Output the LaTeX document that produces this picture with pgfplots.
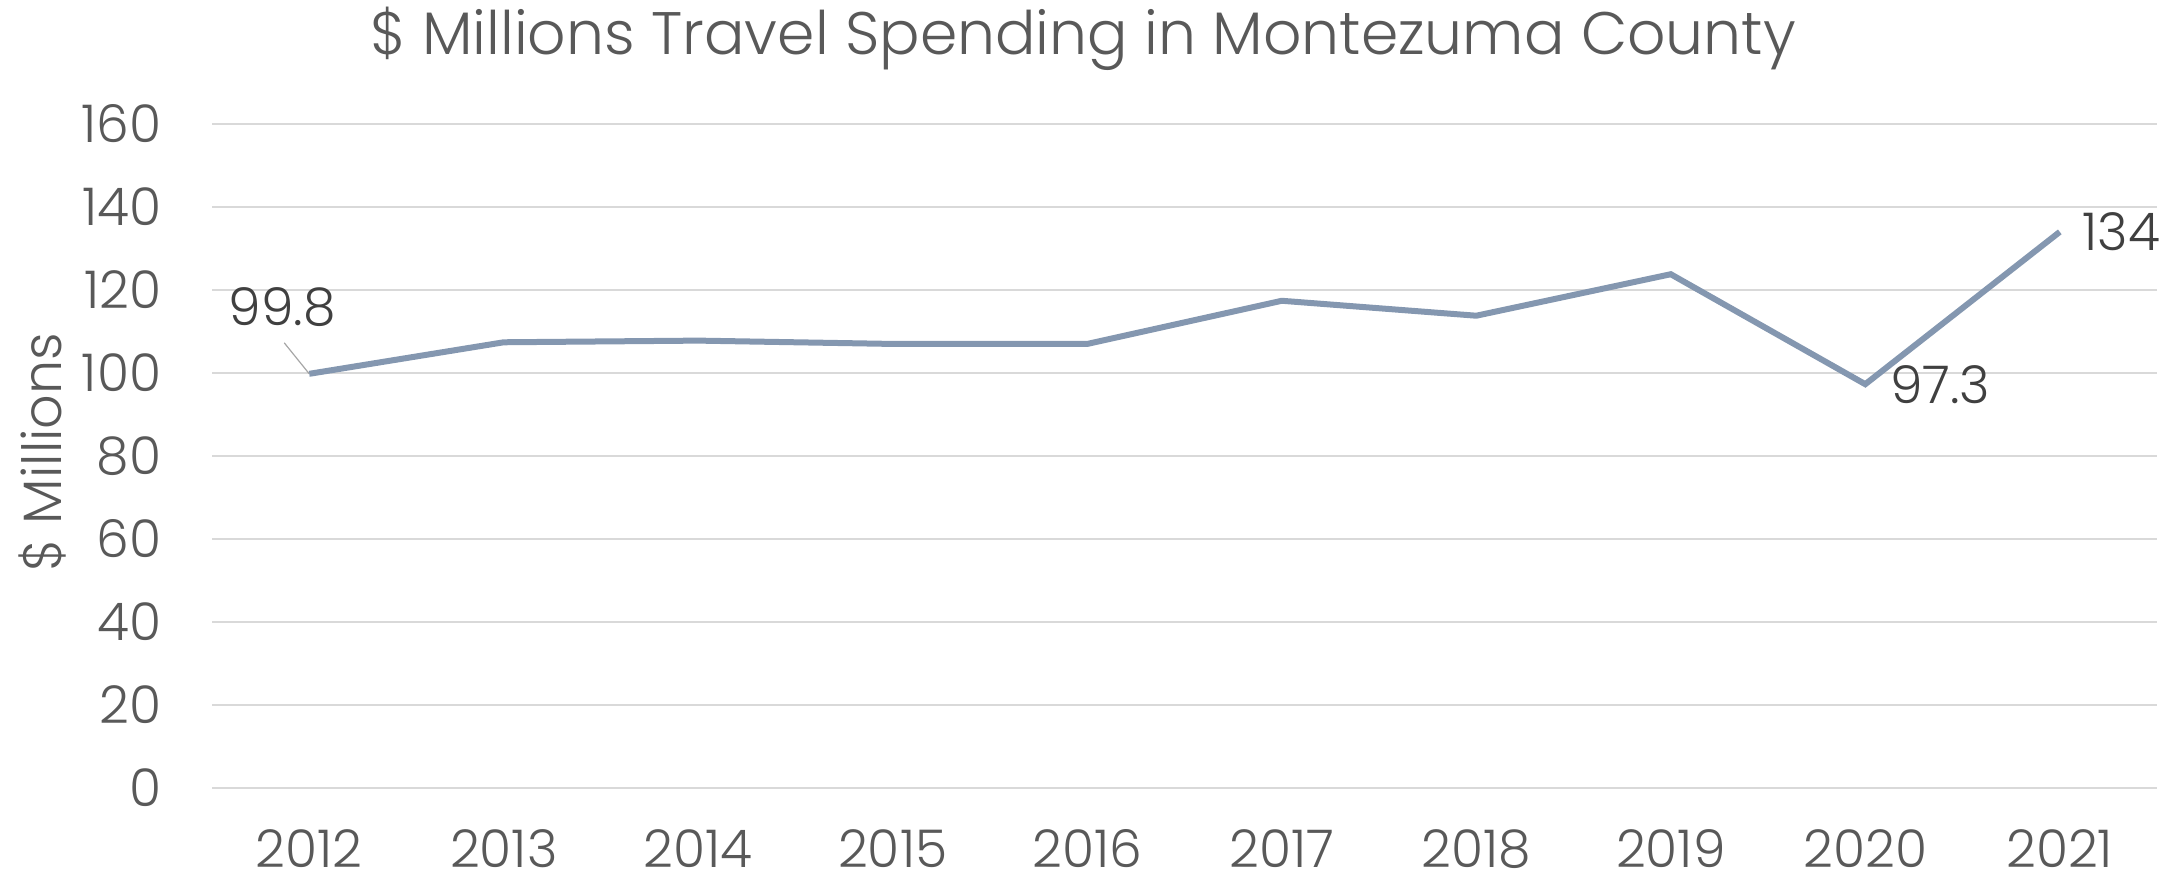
\documentclass[border=0pt]{standalone}
\usepackage{pgfplots}
\pgfplotsset{compat=1.18}
\usepackage{fontspec}
\setmainfont{Poppins}[UprightFont=* Light]
\definecolor{linec}{HTML}{8497B0}
\definecolor{gridc}{HTML}{D9D9D9}
\definecolor{txt}{HTML}{595959}
\definecolor{lbl}{HTML}{404040}
\begin{document}
\begin{tikzpicture}[x=1pt,y=1pt]
\useasboundingbox (0,0) rectangle (545.75,219);
\begin{axis}[
 at={(53pt,22pt)}, anchor=south west,
 scale only axis, width=486.25pt, height=166pt,
 xmin=-0.5, xmax=9.5, ymin=0, ymax=160,
 xtick={0,1,2,3,4,5,6,7,8,9},
 xticklabels={2012,2013,2014,2015,2016,2017,2018,2019,2020,2021},
 ytick={0,20,40,60,80,100,120,140,160},
 ymajorgrids, major grid style={gridc, line width=0.4pt},
 axis line style={draw=none},
 major tick length=0pt,
 ticklabel style={font=\fontsize{13}{15}\selectfont, text=txt, inner sep=0pt},
 xticklabel style={anchor=base, text depth=0pt},
 yticklabel shift=12.5pt, xticklabel shift=20pt,
 /pgf/number format/assume math mode=true,
 clip=false,
]
\addplot[linec, line width=1.5pt] coordinates {(0,99.8)(1,107.4)(2,107.8)(3,107.0)(4,107.0)(5,117.4)(6,113.8)(7,123.8)(8,97.3)(9,134)};
\draw[gray!70, line width=0.3pt] ([shift={(-6.25pt,7.75pt)}]axis cs:0,99.8) -- (axis cs:0,99.8);
\node[inner sep=0pt, text=lbl, font=\fontsize{13}{15}\selectfont] at ([shift={(-6.75pt,16.75pt)}]axis cs:0,99.8) {99.8};
\node[anchor=west, inner sep=0pt, text=lbl, font=\fontsize{13}{15}\selectfont] at ([shift={(6pt,0pt)}]axis cs:8,97.3) {97.3};
\node[anchor=west, inner sep=0pt, text=lbl, font=\fontsize{13}{15}\selectfont] at ([shift={(5.5pt,0pt)}]axis cs:9,134) {134};
\end{axis}
\node[rotate=90, text=txt, font=\fontsize{13.5}{16}\selectfont] at (10.5, 106) {\$ Millions};
\node[text=txt, font=\fontsize{15}{18}\selectfont] at (270.75, 209.25) {\$ Millions Travel Spending in Montezuma County};
\end{tikzpicture}
\end{document}
